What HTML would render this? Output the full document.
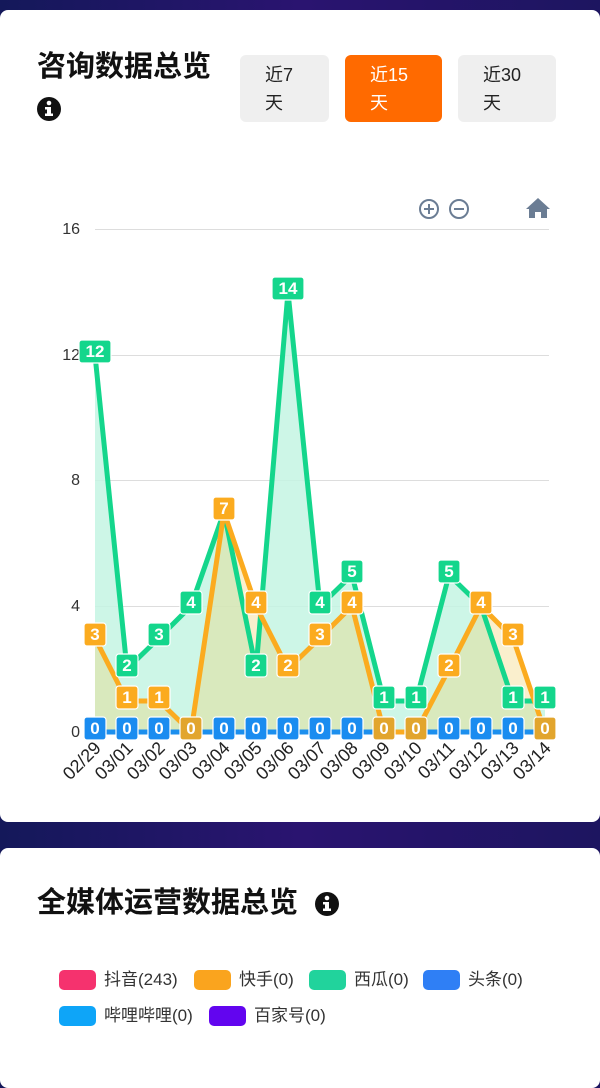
<!DOCTYPE html>
<html><head><meta charset="utf-8"><style>
body{margin:0;width:600px;height:1067px;overflow:hidden;background:linear-gradient(90deg,#14185a,#2a1470 50%,#1d1560);font-family:"Liberation Sans","Noto Sans CJK SC",sans-serif;position:relative}
.card{position:absolute;left:0;width:600px;background:#fff;border-radius:8px}
.btn{position:absolute;top:55px;height:67px;border-radius:6px;background:#efefef;font-size:18px;line-height:28px;color:#222;box-sizing:border-box;padding:6px 0 0 25px}
.t{position:absolute;font-size:29px;font-weight:bold;color:#111;line-height:34px}
.sw{position:absolute;width:37px;height:20px;border-radius:5px}
.lg{position:absolute;font-size:17px;color:#333;line-height:20px}
</style></head><body>
<div class="card" style="top:10px;height:812px"></div>
<div class="card" style="top:848px;height:240px"></div>
<div class="t" style="left:37px;top:50px">咨询数据总览</div>
<svg style="position:absolute;left:36px;top:96px" width="26" height="26"><circle cx="13" cy="13" r="12" fill="#111"/><circle cx="13" cy="7" r="2.3" fill="#fff"/><rect x="9" y="11" width="6" height="2.5" fill="#fff"/><rect x="11" y="11" width="4" height="8" fill="#fff"/><rect x="9" y="17.5" width="8" height="2.5" fill="#fff"/></svg>
<div class="btn" style="left:240px;width:89px">近7<br>天</div>
<div class="btn" style="left:345px;width:97px;background:#ff6a00;color:#fff">近15<br>天</div>
<div class="btn" style="left:458px;width:98px">近30<br>天</div>
<div class="t" style="left:37px;top:886px">全媒体运营数据总览</div>
<svg style="position:absolute;left:314px;top:891px" width="26" height="26"><circle cx="13" cy="13" r="12" fill="#111"/><circle cx="13" cy="7" r="2.3" fill="#fff"/><rect x="9" y="11" width="6" height="2.5" fill="#fff"/><rect x="11" y="11" width="4" height="8" fill="#fff"/><rect x="9" y="17.5" width="8" height="2.5" fill="#fff"/></svg>
<div class="sw" style="left:59px;top:970px;background:#f5326e"></div><div class="lg" style="left:104px;top:970px">抖音(243)</div>
<div class="sw" style="left:194px;top:970px;background:#faa41e"></div><div class="lg" style="left:239px;top:970px">快手(0)</div>
<div class="sw" style="left:309px;top:970px;background:#21d39c"></div><div class="lg" style="left:354px;top:970px">西瓜(0)</div>
<div class="sw" style="left:423px;top:970px;background:#2f7ff5"></div><div class="lg" style="left:468px;top:970px">头条(0)</div>
<div class="sw" style="left:59px;top:1006px;background:#0ea5f8"></div><div class="lg" style="left:104px;top:1006px">哔哩哔哩(0)</div>
<div class="sw" style="left:209px;top:1006px;background:#6205ef"></div><div class="lg" style="left:254px;top:1006px">百家号(0)</div>

<svg style="position:absolute;left:0;top:0" width="600" height="830" font-family="Liberation Sans, sans-serif">
<g stroke="#6b7d94" stroke-width="2" fill="none"><circle cx="429" cy="209" r="9"/><path d="M424 209h10M429 204v10"/><circle cx="459" cy="209" r="9"/><path d="M454 209h10"/></g>
<path d="M538 198l-12 11h3v9h6v-6h6v6h6v-9h3z" fill="#6b7d94"/>
<g stroke="#ddd" stroke-width="1"><path d="M95 229.5H549M95 355.5H549M95 480.5H549M95 606.5H549"/></g>
<g font-size="16" fill="#333" text-anchor="end"><text x="80" y="234">16</text><text x="80" y="360">12</text><text x="80" y="485">8</text><text x="80" y="611">4</text><text x="80" y="737">0</text></g>
<path d="M95 355L127 669L159 638L191 606L224 512L256 669L288 292L320 606L352 575L384 701L416 701L449 575L481 606L513 701L545 701L545 732L95 732Z" fill="#c4f5e3" opacity="0.85"/>
<path d="M95 638L127 701L159 701L191 732L224 512L256 606L288 669L320 638L352 606L384 732L416 732L449 669L481 606L513 638L545 732L95 732Z" fill="#f0d070" opacity="0.35"/>
<path d="M95 355L127 669L159 638L191 606L224 512L256 669L288 292L320 606L352 575L384 701L416 701L449 575L481 606L513 701L545 701" fill="none" stroke="#14d68c" stroke-width="5" stroke-linejoin="round"/>
<path d="M95 732H545" stroke="#1c8fee" stroke-width="5"/>
<path d="M95 638L127 701L159 701L191 732L224 512L256 606L288 669L320 638L352 606L384 732L416 732L449 669L481 606L513 638L545 732" fill="none" stroke="#fbab1f" stroke-width="5" stroke-linejoin="round"/>
<g stroke="#fff" stroke-width="1.2" font-size="16" font-weight="bold" text-anchor="middle">
<g fill="#1a8cf0">
<rect x="84" y="717" width="22" height="23" rx="3"/><rect x="116" y="717" width="22" height="23" rx="3"/><rect x="148" y="717" width="22" height="23" rx="3"/><rect x="213" y="717" width="22" height="23" rx="3"/><rect x="245" y="717" width="22" height="23" rx="3"/><rect x="277" y="717" width="22" height="23" rx="3"/><rect x="309" y="717" width="22" height="23" rx="3"/><rect x="341" y="717" width="22" height="23" rx="3"/><rect x="438" y="717" width="22" height="23" rx="3"/><rect x="470" y="717" width="22" height="23" rx="3"/><rect x="502" y="717" width="22" height="23" rx="3"/>
</g>
<g fill="#14d68c">
<rect x="79" y="340" width="32" height="23" rx="3"/><rect x="116" y="654" width="22" height="23" rx="3"/><rect x="148" y="623" width="22" height="23" rx="3"/><rect x="180" y="591" width="22" height="23" rx="3"/><rect x="245" y="654" width="22" height="23" rx="3"/><rect x="272" y="277" width="32" height="23" rx="3"/><rect x="309" y="591" width="22" height="23" rx="3"/><rect x="341" y="560" width="22" height="23" rx="3"/><rect x="373" y="686" width="22" height="23" rx="3"/><rect x="405" y="686" width="22" height="23" rx="3"/><rect x="438" y="560" width="22" height="23" rx="3"/><rect x="502" y="686" width="22" height="23" rx="3"/><rect x="534" y="686" width="22" height="23" rx="3"/>
</g>
<g fill="#fbab1f">
<rect x="84" y="623" width="22" height="23" rx="3"/><rect x="116" y="686" width="22" height="23" rx="3"/><rect x="148" y="686" width="22" height="23" rx="3"/><rect x="213" y="497" width="22" height="23" rx="3"/><rect x="245" y="591" width="22" height="23" rx="3"/><rect x="277" y="654" width="22" height="23" rx="3"/><rect x="309" y="623" width="22" height="23" rx="3"/><rect x="341" y="591" width="22" height="23" rx="3"/><rect x="438" y="654" width="22" height="23" rx="3"/><rect x="470" y="591" width="22" height="23" rx="3"/><rect x="502" y="623" width="22" height="23" rx="3"/>
</g>
<g fill="#e2a52d"><rect x="180" y="717" width="22" height="23" rx="3"/><rect x="373" y="717" width="22" height="23" rx="3"/><rect x="405" y="717" width="22" height="23" rx="3"/><rect x="534" y="717" width="22" height="23" rx="3"/></g>
</g>
<g fill="#fff" font-size="17" font-weight="bold" text-anchor="middle">
<text x="95" y="734">0</text><text x="127" y="734">0</text><text x="159" y="734">0</text><text x="191" y="734">0</text><text x="224" y="734">0</text><text x="256" y="734">0</text><text x="288" y="734">0</text><text x="320" y="734">0</text><text x="352" y="734">0</text><text x="384" y="734">0</text><text x="416" y="734">0</text><text x="449" y="734">0</text><text x="481" y="734">0</text><text x="513" y="734">0</text><text x="545" y="734">0</text>
<text x="95" y="357">12</text><text x="127" y="671">2</text><text x="159" y="640">3</text><text x="191" y="608">4</text><text x="256" y="671">2</text><text x="288" y="294">14</text><text x="320" y="608">4</text><text x="352" y="577">5</text><text x="384" y="703">1</text><text x="416" y="703">1</text><text x="449" y="577">5</text><text x="513" y="703">1</text><text x="545" y="703">1</text>
<text x="95" y="640">3</text><text x="127" y="703">1</text><text x="159" y="703">1</text><text x="224" y="514">7</text><text x="256" y="608">4</text><text x="288" y="671">2</text><text x="320" y="640">3</text><text x="352" y="608">4</text><text x="449" y="671">2</text><text x="481" y="608">4</text><text x="513" y="640">3</text>
</g>
<g font-size="18" fill="#222" text-anchor="end">
<text transform="translate(102,749) rotate(-45)">02/29</text><text transform="translate(134,749) rotate(-45)">03/01</text><text transform="translate(166,749) rotate(-45)">03/02</text><text transform="translate(198,749) rotate(-45)">03/03</text><text transform="translate(231,749) rotate(-45)">03/04</text><text transform="translate(263,749) rotate(-45)">03/05</text><text transform="translate(295,749) rotate(-45)">03/06</text><text transform="translate(327,749) rotate(-45)">03/07</text><text transform="translate(359,749) rotate(-45)">03/08</text><text transform="translate(391,749) rotate(-45)">03/09</text><text transform="translate(423,749) rotate(-45)">03/10</text><text transform="translate(456,749) rotate(-45)">03/11</text><text transform="translate(488,749) rotate(-45)">03/12</text><text transform="translate(520,749) rotate(-45)">03/13</text><text transform="translate(552,749) rotate(-45)">03/14</text>
</g>
</svg>
</body></html>
